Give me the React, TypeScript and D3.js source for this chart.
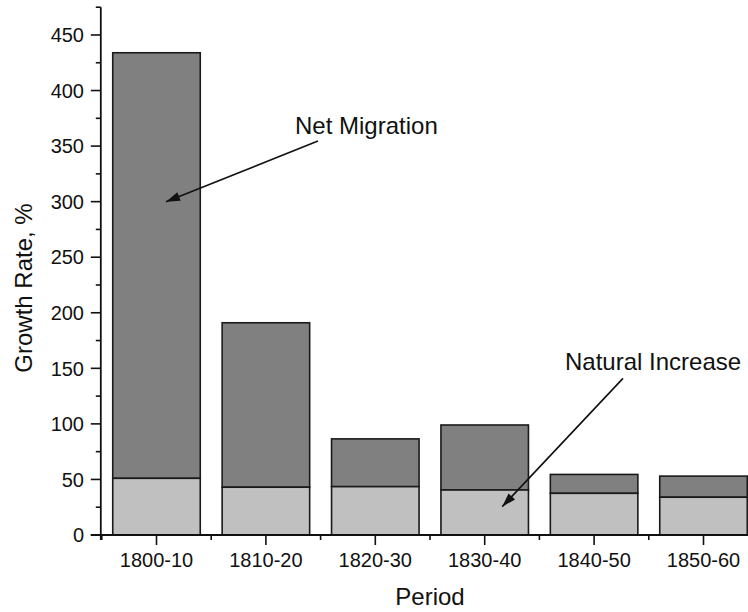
import React from "react";
import * as d3 from "d3";

const categories = ["1800-10", "1810-20", "1820-30", "1830-40", "1840-50", "1850-60"];
const naturalIncrease = [51, 43, 43.5, 40.5, 37.5, 34];
const totalGrowth = [434, 191, 86.5, 99, 54.5, 53];
const yTicks = [0, 50, 100, 150, 200, 250, 300, 350, 400, 450];
const yMinorTicks = [25, 75, 125, 175, 225, 275, 325, 375, 425, 475];

// annotations in data units: x as band index position, y as value
const annotations = [
  { label: "Net Migration", textX: 1.766, textY: 361, tailX: 1.976, tailY: 354.5, tipX: 0.587, tipY: 300 },
  { label: "Natural Increase", textX: 4.234, textY: 148.5, tailX: 4.764, tailY: 141, tipX: 3.66, tipY: 25.5 },
];

const W = 748;
const H = 612;
const FONT = "'Liberation Sans', Arial, Helvetica, sans-serif";

export default function App() {
  const x0 = 101.8;
  const x1 = 758.2;
  const x = d3.scaleBand<string>().domain(categories).range([x0, x1]).paddingInner(0.2).paddingOuter(0.1);
  const xc = d3.scaleLinear().domain([0, categories.length]).range([x0, x1]);
  const y = d3.scaleLinear().domain([0, 475]).range([535, 7.2]);

  const boundaries = d3.range(0, categories.length + 1);

  const arrowHead = (tx: number, ty: number, fx: number, fy: number) => {
    const ang = Math.atan2(ty - fy, tx - fx);
    const len = 14;
    const wid = 4.5;
    const bx = tx - len * Math.cos(ang);
    const by = ty - len * Math.sin(ang);
    const px = -Math.sin(ang) * wid;
    const py = Math.cos(ang) * wid;
    return `M${tx},${ty}L${bx + px},${by + py}L${bx - px},${by - py}Z`;
  };

  return (
    <svg width={W} height={H} style={{ position: "absolute", left: 0, top: 0, background: "#fff" }} fontFamily={FONT}>
      {/* bars */}
      {categories.map((c, i) => {
        const bx = x(c)!;
        const bw = x.bandwidth();
        return (
          <g key={c}>
            <rect x={bx} y={y(totalGrowth[i])} width={bw} height={y(naturalIncrease[i]) - y(totalGrowth[i])} fill="#808080" stroke="#1a1a1a" strokeWidth={1.6} />
            <rect x={bx} y={y(naturalIncrease[i])} width={bw} height={y(0) - y(naturalIncrease[i])} fill="#c0c0c0" stroke="#1a1a1a" strokeWidth={1.6} />
          </g>
        );
      })}

      {/* y axis */}
      <line x1={x0 - 1} x2={x0 - 1} y1={y(475)} y2={y(0) + 5} stroke="#111" strokeWidth={1.8} />
      {yTicks.map((t) => (
        <g key={"yt" + t}>
          <line x1={x0 - 11} x2={x0 - 1} y1={y(t)} y2={y(t)} stroke="#111" strokeWidth={1.6} />
          <text x={84} y={y(t)} dy="0.36em" textAnchor="end" fontSize={20} fill="#111">{t}</text>
        </g>
      ))}
      {yMinorTicks.map((t) => (
        <line key={"ym" + t} x1={x0 - 6} x2={x0 - 1} y1={y(t)} y2={y(t)} stroke="#111" strokeWidth={1.6} />
      ))}

      {/* x axis */}
      <line x1={x0 - 11} x2={x1} y1={y(0)} y2={y(0)} stroke="#111" strokeWidth={1.8} />
      {categories.map((c) => {
        const cx = x(c)! + x.bandwidth() / 2;
        return (
          <g key={"xt" + c}>
            <line x1={cx} x2={cx} y1={y(0)} y2={y(0) + 10} stroke="#111" strokeWidth={1.6} />
            <text x={cx} y={567} textAnchor="middle" fontSize={20} fill="#111">{c}</text>
          </g>
        );
      })}
      {boundaries.map((b) => (
        <line key={"xm" + b} x1={xc(b)} x2={xc(b)} y1={y(0)} y2={y(0) + 5} stroke="#111" strokeWidth={1.6} />
      ))}

      {/* axis titles */}
      <text x={(x0 + x1) / 2} y={605} textAnchor="middle" fontSize={24} fill="#111">Period</text>
      <text transform={`translate(32,288) rotate(-90)`} textAnchor="middle" fontSize={24} fill="#111">Growth Rate, %</text>

      {/* annotations */}
      {annotations.map((a) => {
        const tx = xc(a.tipX);
        const ty = y(a.tipY);
        const fx = xc(a.tailX);
        const fy = y(a.tailY);
        return (
          <g key={a.label}>
            <text x={xc(a.textX)} y={y(a.textY)} fontSize={24} fill="#111">{a.label}</text>
            <line x1={fx} y1={fy} x2={tx} y2={ty} stroke="#111" strokeWidth={1.6} />
            <path d={arrowHead(tx, ty, fx, fy)} fill="#111" />
          </g>
        );
      })}
    </svg>
  );
}
